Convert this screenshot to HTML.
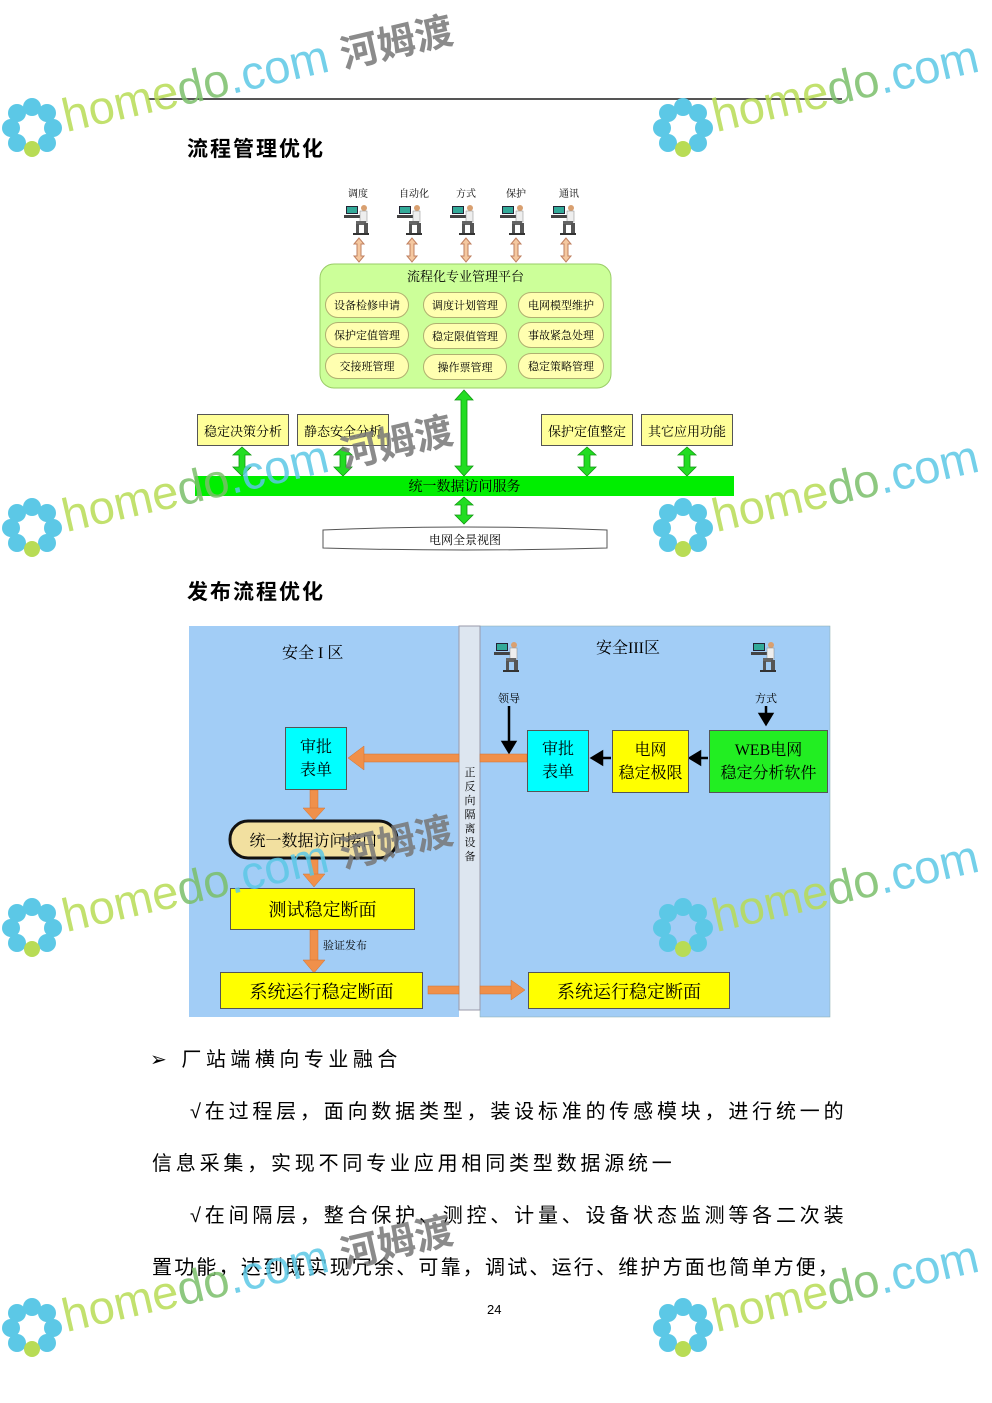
<!DOCTYPE html>
<html><head><meta charset="utf-8"><style>
body{margin:0;background:#fff}
#p{position:relative;width:992px;height:1403px;overflow:hidden;font-family:"Liberation Serif","Noto Serif CJK SC","Noto Sans CJK SC",serif;color:#000}
.a{position:absolute}
.c{position:absolute;display:flex;align-items:center;justify-content:center;text-align:center;box-sizing:border-box}
.pill{position:absolute;height:26px;border:1px solid #b0b070;border-radius:13px;background:#ffffb0;font-size:11px;display:flex;align-items:center;justify-content:center;box-sizing:border-box}
.yb{background:#ffff99;border:1px solid #555;font-size:13px}
.tl{position:absolute;font-size:20px;letter-spacing:6px;white-space:nowrap;font-family:"Liberation Sans","Noto Sans CJK SC",sans-serif}
.wm{position:absolute;line-height:1;transform-origin:0 100%;transform:rotate(-13deg);white-space:nowrap;font-family:"Liberation Sans","DejaVu Sans",sans-serif;font-size:47px;opacity:.85;pointer-events:none}
.wm b{font-weight:normal}
.wm i{font-style:normal;color:#777;font-weight:bold;font-family:'Noto Sans CJK SC',sans-serif;font-size:38px}
</style></head><body><div id="p">

<div class="a" style="left:148px;top:98px;width:694px;height:2px;background:#555"></div>
<div class="a" style="left:187px;top:133px;font-size:21px;font-weight:bold;letter-spacing:2px;font-family:'Noto Sans CJK SC',sans-serif">流程管理优化</div>

<svg class="a" style="left:0;top:0" width="992" height="1403">
<defs>
<g id="man">
<rect x="-14" y="0" width="12" height="8" fill="#223" /><rect x="-13" y="1" width="10" height="6" fill="#3a9"/>
<rect x="-16" y="9" width="16" height="3" fill="#444"/>
<circle cx="4" cy="2" r="3" fill="#d9a070"/>
<rect x="0" y="5" width="7" height="11" fill="#eee" stroke="#888" stroke-width=".5"/>
<rect x="-4" y="15" width="10" height="4" fill="#666"/>
<rect x="-4" y="18" width="3" height="10" fill="#555"/><rect x="4" y="17" width="4" height="11" fill="#555"/>
<rect x="-7" y="27" width="16" height="2" fill="#333"/>
</g>
</defs>
<g fill="#f5c8a0" stroke="#c08060" stroke-width="1">
<path d="M359 238l-5 6h3v12h-3l5 6 5-6h-3v-12h3z"/>
<path d="M412 238l-5 6h3v12h-3l5 6 5-6h-3v-12h3z"/>
<path d="M466 238l-5 6h3v12h-3l5 6 5-6h-3v-12h3z"/>
<path d="M516 238l-5 6h3v12h-3l5 6 5-6h-3v-12h3z"/>
<path d="M566 238l-5 6h3v12h-3l5 6 5-6h-3v-12h3z"/>
</g>
<use href="#man" x="360" y="206"/><use href="#man" x="413" y="206"/><use href="#man" x="466" y="206"/><use href="#man" x="516" y="206"/><use href="#man" x="567" y="206"/>
<rect x="320" y="264" width="291" height="124" rx="14" fill="#ccff99" stroke="#99cc66"/>
<rect x="195" y="476" width="539" height="20" fill="#00ee00"/>
<g fill="#22dd22" stroke="#119911" stroke-width=".8">
<path d="M464 390l-9 10h6v66h-6l9 10 9-10h-6v-66h6z"/>
<path d="M464 497l-9 8h6v10h-6l9 9 9-9h-6v-10h6z"/>
<path d="M242 447l-9 8h6v12h-6l9 9 9-9h-6v-12h6z"/>
<path d="M343 447l-9 8h6v12h-6l9 9 9-9h-6v-12h6z"/>
<path d="M587 447l-9 8h6v12h-6l9 9 9-9h-6v-12h6z"/>
<path d="M687 447l-9 8h6v12h-6l9 9 9-9h-6v-12h6z"/>
</g>
<path d="M323 530 Q465 524 607 530 V548 Q465 552 323 548 Z" fill="#fff" stroke="#555"/>

<rect x="189" y="626" width="270" height="391" fill="#a2cdf6"/>
<rect x="480" y="626" width="350" height="391" fill="#a2cdf6" stroke="#8aa" stroke-width=".5"/>
<rect x="459" y="626" width="21" height="384" fill="#dde6f0" stroke="#99a"/>
<use href="#man" x="510" y="643"/><use href="#man" x="767" y="643"/>
<g stroke="#000" stroke-width="2.5" fill="#000">
<line x1="509" y1="706" x2="509" y2="744"/><path d="M503 742l6 10 6-10z"/>
<line x1="766" y1="706" x2="766" y2="716"/><path d="M760 714l6 10 6-10z"/>
<line x1="708" y1="758" x2="698" y2="758"/><path d="M700 752l-10 6 10 6z"/>
<line x1="611" y1="758" x2="600" y2="758"/><path d="M602 752l-10 6 10 6z"/>
</g>
<g fill="#f0904a" stroke="#d07030" stroke-width=".5">
<rect x="362" y="754" width="97" height="8"/><rect x="480" y="754" width="47" height="8"/>
<path d="M364 746l-16 12 16 12z"/>
<rect x="310" y="790" width="8" height="20"/><path d="M303 808l11 12 11-12z"/>
<rect x="310" y="858" width="8" height="18"/><path d="M303 874l11 13 11-13z"/>
<rect x="310" y="930" width="8" height="32"/><path d="M303 960l11 13 11-13z"/>
<rect x="428" y="986" width="31" height="8"/><rect x="480" y="986" width="32" height="8"/><path d="M511 980l14 10-14 10z"/>
</g>
<rect x="230" y="821" width="167" height="37" rx="18" fill="#f2e0a0" stroke="#111" stroke-width="3"/>
</svg>

<div class="a" style="font-size:10px;left:348px;top:185px">调度</div>
<div class="a" style="font-size:10px;left:399px;top:185px">自动化</div>
<div class="a" style="font-size:10px;left:456px;top:185px">方式</div>
<div class="a" style="font-size:10px;left:506px;top:185px">保护</div>
<div class="a" style="font-size:10px;left:559px;top:185px">通讯</div>
<div class="c" style="left:320px;top:266px;width:291px;height:18px;font-size:13px">流程化专业管理平台</div>
<div class="pill" style="left:325px;top:292px;width:84px">设备检修申请</div>
<div class="pill" style="left:423px;top:292px;width:84px">调度计划管理</div>
<div class="pill" style="left:518px;top:292px;width:86px">电网模型维护</div>
<div class="pill" style="left:325px;top:322px;width:84px">保护定值管理</div>
<div class="pill" style="left:423px;top:323px;width:84px">稳定限值管理</div>
<div class="pill" style="left:518px;top:322px;width:86px">事故紧急处理</div>
<div class="pill" style="left:325px;top:353px;width:84px">交接班管理</div>
<div class="pill" style="left:423px;top:354px;width:84px">操作票管理</div>
<div class="pill" style="left:518px;top:353px;width:86px">稳定策略管理</div>
<div class="c yb" style="left:197px;top:414px;width:92px;height:32px">稳定决策分析</div>
<div class="c yb" style="left:297px;top:414px;width:92px;height:32px">静态安全分析</div>
<div class="c yb" style="left:541px;top:414px;width:92px;height:32px">保护定值整定</div>
<div class="c yb" style="left:641px;top:414px;width:92px;height:32px">其它应用功能</div>
<div class="c" style="left:195px;top:476px;width:539px;height:20px;font-size:14px">统一数据访问服务</div>
<div class="c" style="left:323px;top:530px;width:284px;height:19px;font-size:12px">电网全景视图</div>

<div class="a" style="left:187px;top:576px;font-size:21px;font-weight:bold;letter-spacing:2px;font-family:'Noto Sans CJK SC',sans-serif">发布流程优化</div>
<div class="a" style="left:282px;top:640px;font-size:16px">安全 I 区</div>
<div class="a" style="left:596px;top:635px;font-size:16px">安全III区</div>
<div class="a" style="left:498px;top:690px;font-size:11px">领导</div>
<div class="a" style="left:755px;top:690px;font-size:11px">方式</div>
<div class="a" style="left:463px;top:766px;width:14px;font-size:11px;line-height:14px;text-align:center">正反向隔离设备</div>
<div class="c" style="left:285px;top:727px;width:62px;height:63px;background:#00ffff;border:1px solid #555;font-size:16px;line-height:23px">审批<br>表单</div>
<div class="c" style="left:527px;top:730px;width:62px;height:62px;background:#00ffff;border:1px solid #555;font-size:16px;line-height:23px">审批<br>表单</div>
<div class="c" style="left:612px;top:730px;width:77px;height:63px;background:#ffff00;border:1px solid #555;font-size:16px;line-height:23px">电网<br>稳定极限</div>
<div class="c" style="left:709px;top:730px;width:119px;height:63px;background:#22ee22;border:1px solid #555;font-size:16px;line-height:23px">WEB电网<br>稳定分析软件</div>
<div class="c" style="left:230px;top:821px;width:167px;height:37px;font-size:16px">统一数据访问接口</div>
<div class="c" style="left:230px;top:888px;width:185px;height:42px;background:#ffff00;border:1px solid #555;font-size:18px">测试稳定断面</div>
<div class="a" style="left:323px;top:937px;font-size:11px">验证发布</div>
<div class="c" style="left:220px;top:972px;width:203px;height:37px;background:#ffff00;border:1px solid #555;font-size:18px">系统运行稳定断面</div>
<div class="c" style="left:528px;top:972px;width:202px;height:37px;background:#ffff00;border:1px solid #555;font-size:18px">系统运行稳定断面</div>

<div class="tl" style="left:150px;top:1043px;letter-spacing:4.5px">➢&nbsp;厂站端横向专业融合</div>
<div class="tl" style="left:190px;top:1095px;letter-spacing:3.8px">√在过程层，面向数据类型，装设标准的传感模块，进行统一的</div>
<div class="tl" style="left:152px;top:1147px;letter-spacing:3.8px">信息采集，实现不同专业应用相同类型数据源统一</div>
<div class="tl" style="left:190px;top:1199px;letter-spacing:3.8px">√在间隔层，整合保护、测控、计量、设备状态监测等各二次装</div>
<div class="tl" style="left:152px;top:1251px;letter-spacing:2.2px">置功能，达到既实现冗余、可靠，调试、运行、维护方面也简单方便，</div>
<div class="a" style="left:487px;top:1302px;font-size:13px;font-family:'Liberation Sans',sans-serif">24</div>

<div class="wm" style="left:68px;top:92px"><b style="color:#b8dc55">home</b><b style="color:#7bbf6a">do</b><b style="color:#5cc8e6">.com</b> <i>河姆渡</i></div>
<div class="wm" style="left:68px;top:492px"><b style="color:#b8dc55">home</b><b style="color:#7bbf6a">do</b><b style="color:#5cc8e6">.com</b> <i>河姆渡</i></div>
<div class="wm" style="left:68px;top:892px"><b style="color:#b8dc55">home</b><b style="color:#7bbf6a">do</b><b style="color:#5cc8e6">.com</b> <i>河姆渡</i></div>
<div class="wm" style="left:68px;top:1292px"><b style="color:#b8dc55">home</b><b style="color:#7bbf6a">do</b><b style="color:#5cc8e6">.com</b> <i>河姆渡</i></div>
<div class="wm" style="left:718px;top:92px"><b style="color:#b8dc55">home</b><b style="color:#7bbf6a">do</b><b style="color:#5cc8e6">.com</b></div>
<div class="wm" style="left:718px;top:492px"><b style="color:#b8dc55">home</b><b style="color:#7bbf6a">do</b><b style="color:#5cc8e6">.com</b></div>
<div class="wm" style="left:718px;top:892px"><b style="color:#b8dc55">home</b><b style="color:#7bbf6a">do</b><b style="color:#5cc8e6">.com</b></div>
<div class="wm" style="left:718px;top:1292px"><b style="color:#b8dc55">home</b><b style="color:#7bbf6a">do</b><b style="color:#5cc8e6">.com</b></div>
<svg class="a" style="left:0;top:0" width="992" height="1403">
<defs><g id="fl" fill="#5cc8e6"><circle cx="0" cy="-21" r="9"/><circle cx="15" cy="-15" r="9"/><circle cx="21" cy="0" r="9"/><circle cx="15" cy="15" r="9"/><circle cx="-15" cy="15" r="9"/><circle cx="-21" cy="0" r="9"/><circle cx="-15" cy="-15" r="9"/><circle cx="0" cy="21" r="8" fill="#b8dc55"/></g></defs>
<use href="#fl" x="32" y="128"/><use href="#fl" x="32" y="528"/><use href="#fl" x="32" y="928"/><use href="#fl" x="32" y="1328"/>
<use href="#fl" x="683" y="128"/><use href="#fl" x="683" y="528"/><use href="#fl" x="683" y="928"/><use href="#fl" x="683" y="1328"/>
</svg>
</div></body></html>
